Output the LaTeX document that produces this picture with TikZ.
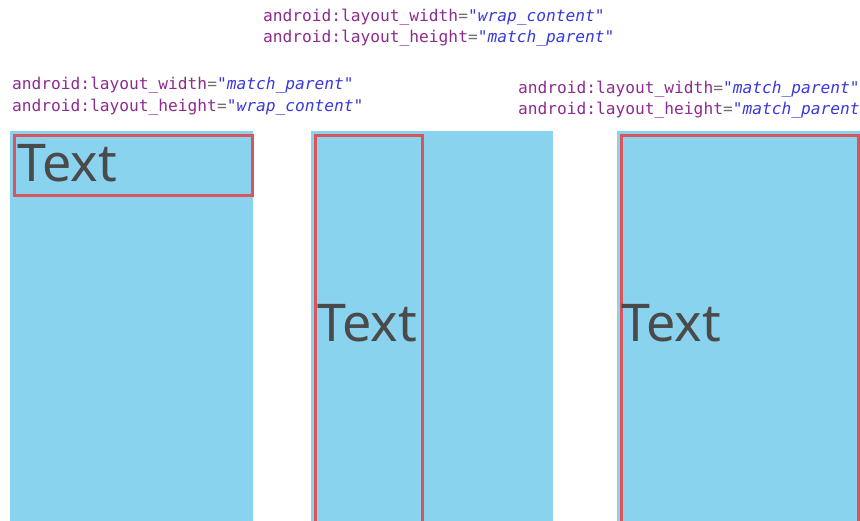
\documentclass[tikz,border=0pt]{standalone}
\usepackage{fontspec}
\setmainfont{Noto Sans}
\setmonofont{DejaVu Sans Mono}
\usepackage{xcolor}
\usepackage{tikz}
\usetikzlibrary{positioning}

\definecolor{panelblue}{HTML}{89D3EF}
\definecolor{viewred}{HTML}{D9555B}
\definecolor{textgray}{HTML}{4A4A4A}
\definecolor{attrpurple}{HTML}{8E2B8E}
\definecolor{valblue}{HTML}{3838E0}
\definecolor{eqgray}{HTML}{707070}

\newcommand{\attrline}[2]{\textcolor{attrpurple}{android:layout\_#1}\textcolor{eqgray}{=}\textcolor{valblue}{\itshape"#2"}}

\tikzset{
  panel/.style={fill=panelblue,draw=none,inner sep=0pt,anchor=north west},
  viewbox/.style={draw=viewred,line width=3pt,inner sep=0pt,anchor=north west},
  viewtext/.style={text=textgray,inner sep=0pt,anchor=base west,font=\fontsize{52}{52}\selectfont},
  attr/.style={inner sep=0pt,anchor=base west,font=\ttfamily\fontsize{16.2}{21}\selectfont}
}

\begin{document}
\begin{tikzpicture}[x=1pt,y=-1pt]
                \useasboundingbox (0,0) rectangle (860,521);
                % panels
                \node[panel,minimum width=243pt,minimum height=395pt] (p1) at (10,131) {};
                \node[panel,minimum width=242pt,minimum height=395pt] (p2) at (311,131) {};
                \node[panel,minimum width=246pt,minimum height=395pt] (p3) at (617,131) {};
                % views
                \node[viewbox,minimum width=238pt,minimum height=60pt] (v1) at (12.5,134.5) {};
                \node[viewbox,minimum width=107pt,minimum height=395pt] (v2) at (313.5,134.5) {};
                \node[viewbox,minimum width=237pt,minimum height=395pt] (v3) at (619.5,134.5) {};
                \node[viewtext] (t1) at (17,182) {Text};
                \node[viewtext] (t2) at (317,342) {Text};
                \node[viewtext] (t3) at (621,342) {Text};
                % attributes
                \node[attr] (a1w) at (12,90) {\attrline{width}{match\_parent}};
                \node[attr] (a1h) at (12,112) {\attrline{height}{wrap\_content}};
                \node[attr] (a2w) at (263,21.7) {\attrline{width}{wrap\_content}};
                \node[attr] (a2h) at (263,42.7) {\attrline{height}{match\_parent}};
                \node[attr] (a3w) at (518,93.3) {\attrline{width}{match\_parent}};
                \node[attr] (a3h) at (518,114.3) {\attrline{height}{match\_parent}};
            \end{tikzpicture}
\end{document}
